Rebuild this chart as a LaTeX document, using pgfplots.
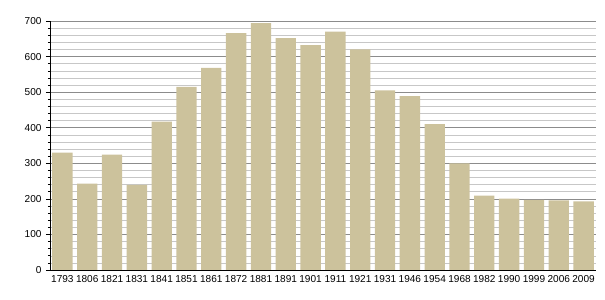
\documentclass[border=0pt]{standalone}
\usepackage{fontspec}
\setmainfont{Liberation Sans}
\usepackage{pgfplots}
\pgfplotsset{compat=1.18}
\definecolor{barc}{HTML}{CCC29C}
\begin{document}
\begin{tikzpicture}
\begin{axis}[
  scale only axis,
  width=546bp, height=249bp,
  at={(0,0)}, anchor=south west,
  xmin=-0.5, xmax=21.5,
  ymin=0, ymax=700,
  ytick={0,100,...,700},
  minor y tick num=4,
  xtick={0,...,21},
  xticklabels={1793,1806,1821,1831,1841,1851,1861,1872,1881,1891,1901,1911,1921,1931,1946,1954,1968,1982,1990,1999,2006,2009},
  axis x line*=bottom,
  axis y line*=left,
  axis line style={-, black, line width=0.8pt},
  ymajorgrids, yminorgrids,
  major grid style={draw=black!45, line width=0.6pt},
  minor grid style={draw=black!22, line width=0.5pt},
  tick align=outside,
  major tick length=4bp,
  minor tick length=2bp,
  tick style={black, line width=0.6pt},
  x tick style={draw=none},
  ytick pos=left,
  /pgf/number format/assume math mode=true,
  /pgf/number format/.cd, 1000 sep={},
  /pgfplots/.cd,
  ticklabel style={font=\fontsize{10.1}{12}\selectfont},
  xticklabel style={yshift=2bp},
  yticklabel style={xshift=-1bp},
  axis on top=false,
]
\addplot[ybar, bar width=0.82, fill=barc, draw=none] coordinates {
(0,330) (1,243) (2,324) (3,239) (4,417) (5,515) (6,568) (7,666) (8,694) (9,652)
(10,632) (11,670) (12,620) (13,505) (14,489) (15,410) (16,300) (17,209) (18,201) (19,197)
(20,196) (21,193)
};
\end{axis}
\path[use as bounding box] (-50bp,-30bp) rectangle (555bp,270bp);
\end{tikzpicture}
\end{document}
